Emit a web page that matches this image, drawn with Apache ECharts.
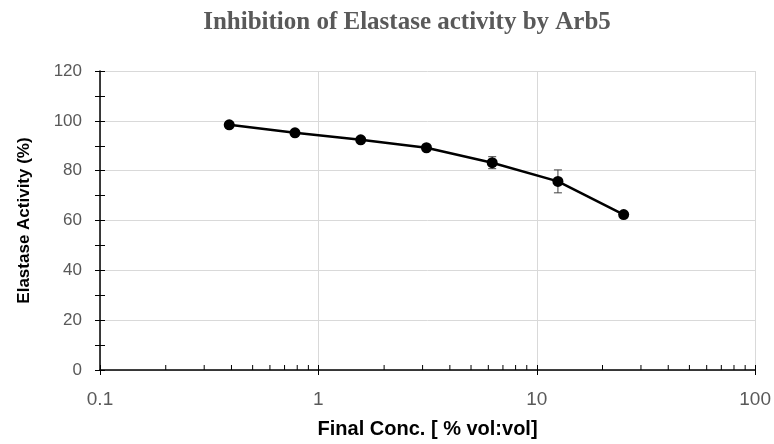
<!DOCTYPE html>
<html>
<head>
<meta charset="utf-8">
<script src="https://cdn.jsdelivr.net/npm/echarts@6/dist/echarts.min.js"></script>
<style>
  html, body { margin: 0; padding: 0; background: #fff; }
  #chart { width: 774px; height: 444px; }
</style>
</head>
<body>
<div id="chart"></div>
<script>
// Final concentration of Arb5 (% vol:vol), two-fold dilution series
const concentrations = [0.390625, 0.78125, 1.5625, 3.125, 6.25, 12.5, 25];
// Mean elastase activity (%) and standard deviation at each concentration
const activity = [98.4, 95.2, 92.4, 89.2, 83.2, 75.7, 62.4];
const activitySD = [1.2, 0.6, 0.5, 1.0, 2.4, 4.6, 0.5];
// Minor tick positions on the logarithmic concentration axis
const minorTicks = [0.2, 0.3, 0.4, 0.5, 0.6, 0.7, 0.8, 0.9,
                    2, 3, 4, 5, 6, 7, 8, 9,
                    20, 30, 40, 50, 60, 70, 80, 90];

const meanPoints = concentrations.map((c, i) => [c, activity[i]]);
const errorPoints = concentrations.map((c, i) => [c, activity[i] - activitySD[i], activity[i] + activitySD[i]]);

const sans = 'Liberation Sans, Arial, sans-serif';
const gridColor = '#d9d9d9';

const chart = echarts.init(document.getElementById('chart'), null, { renderer: 'canvas' });

chart.setOption({
  animation: false,
  backgroundColor: '#ffffff',
  title: {
    text: 'Inhibition of Elastase activity by Arb5',
    left: 402,
    textAlign: 'center',
    top: 5,
    textStyle: {
      fontFamily: 'Liberation Serif, Times New Roman, serif',
      fontSize: 25,
      fontWeight: 'bold',
      color: '#595959'
    }
  },
  grid: { left: 100, right: 17, top: 71, bottom: 73, containLabel: false },
  xAxis: [
    {
      type: 'log',
      logBase: 10,
      min: 0.1,
      max: 100,
      name: 'Final Conc. [ % vol:vol]',
      nameLocation: 'middle',
      nameGap: 49,
      nameTextStyle: { fontFamily: sans, fontSize: 20, fontWeight: 'bold', color: '#000' },
      axisLine: { lineStyle: { color: '#000', width: 1.5 } },
      axisTick: { show: true, length: 5, lineStyle: { color: '#000', width: 1 } },
      axisLabel: {
        fontFamily: sans,
        fontSize: 19,
        color: '#595959',
        margin: 20,
        formatter: v => String(+v.toPrecision(3))
      },
      splitLine: { show: true, lineStyle: { color: gridColor, width: 1 } }
    },
    {
      // same scale, drawn again for the inward half of the major ticks
      type: 'log',
      logBase: 10,
      min: 0.1,
      max: 100,
      position: 'bottom',
      axisLine: { show: false },
      axisTick: { show: true, inside: true, length: 5, lineStyle: { color: '#000', width: 1 } },
      axisLabel: { show: false },
      splitLine: { show: false }
    }
  ],
  yAxis: [
    {
      type: 'value',
      min: 0,
      max: 120,
      interval: 20,
      name: 'Elastase Activity (%)',
      nameLocation: 'middle',
      nameGap: 67,
      nameTextStyle: { fontFamily: sans, fontSize: 17, fontWeight: 'bold', color: '#000' },
      axisLine: { show: true, lineStyle: { color: '#000', width: 1.5 } },
      axisTick: { show: true, length: 5, lineStyle: { color: '#000', width: 1 } },
      minorTick: { show: true, splitNumber: 2, length: 5, lineStyle: { color: '#000', width: 1 } },
      axisLabel: { fontFamily: sans, fontSize: 17, color: '#595959', margin: 18 },
      splitLine: { show: true, lineStyle: { color: gridColor, width: 1 } }
    },
    {
      // inward half of the cross-style ticks
      type: 'value',
      min: 0,
      max: 120,
      interval: 20,
      position: 'left',
      axisLine: { show: false },
      axisTick: { show: true, inside: true, length: 5, lineStyle: { color: '#000', width: 1 } },
      minorTick: { show: true, splitNumber: 2, length: 5, lineStyle: { color: '#000', width: 1 } },
      axisLabel: { show: false },
      splitLine: { show: false }
    }
  ],
  series: [
    {
      // minor ticks of the log axis, pointing into the plot
      type: 'custom',
      xAxisIndex: 0,
      yAxisIndex: 0,
      silent: true,
      z: 5,
      data: minorTicks.map(v => [v, 0]),
      renderItem: (params, api) => {
        const p = api.coord([api.value(0), 0]);
        return {
          type: 'line',
          shape: { x1: p[0], y1: p[1], x2: p[0], y2: p[1] - 5 },
          style: { stroke: '#000', lineWidth: 1 }
        };
      }
    },
    {
      // standard deviation bars
      type: 'custom',
      xAxisIndex: 0,
      yAxisIndex: 0,
      silent: true,
      z: 3,
      data: errorPoints,
      renderItem: (params, api) => {
        const x = api.value(0);
        const lo = api.coord([x, api.value(1)]);
        const hi = api.coord([x, api.value(2)]);
        const cap = 4;
        const style = { stroke: '#404040', lineWidth: 1 };
        return {
          type: 'group',
          children: [
            { type: 'line', shape: { x1: lo[0], y1: lo[1], x2: hi[0], y2: hi[1] }, style },
            { type: 'line', shape: { x1: hi[0] - cap, y1: hi[1], x2: hi[0] + cap, y2: hi[1] }, style },
            { type: 'line', shape: { x1: lo[0] - cap, y1: lo[1], x2: lo[0] + cap, y2: lo[1] }, style }
          ]
        };
      }
    },
    {
      name: 'Elastase activity',
      type: 'line',
      xAxisIndex: 0,
      yAxisIndex: 0,
      data: meanPoints,
      z: 4,
      symbol: 'circle',
      symbolSize: 11,
      itemStyle: { color: '#000' },
      lineStyle: { color: '#000', width: 2.5 }
    }
  ]
});
</script>
</body>
</html>
